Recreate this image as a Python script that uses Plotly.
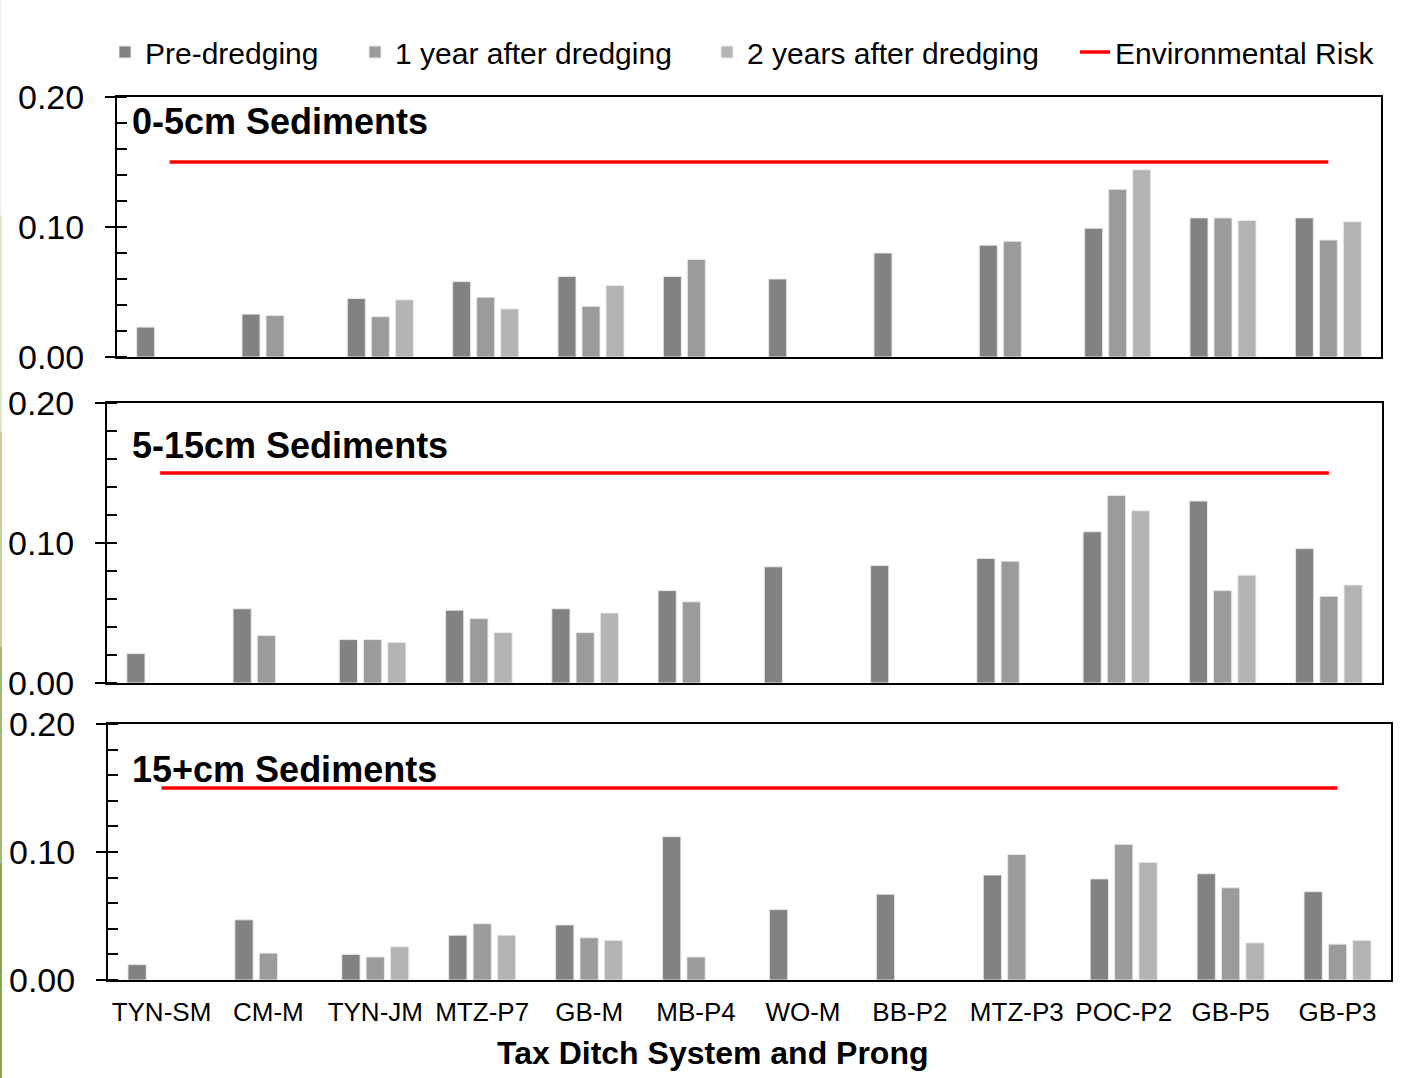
import plotly.graph_objects as go

W, H = 1421, 1078

sites = ["TYN-SM", "CM-M", "TYN-JM", "MTZ-P7", "GB-M", "MB-P4",
         "WO-M", "BB-P2", "MTZ-P3", "POC-P2", "GB-P5", "GB-P3"]

series_names = ["Pre-dredging", "1 year after dredging", "2 years after dredging"]
risk_name = "Environmental Risk"

# 0-5 cm sediments
pre_0_5 = [0.023, 0.033, 0.045, 0.058, 0.062, 0.062, 0.060, 0.080, 0.086, 0.099, 0.107, 0.107]
yr1_0_5 = [None, 0.032, 0.031, 0.046, 0.039, 0.075, None, None, 0.089, 0.129, 0.107, 0.090]
yr2_0_5 = [None, None, 0.044, 0.037, 0.055, None, None, None, None, 0.144, 0.105, 0.104]

# 5-15 cm sediments
pre_5_15 = [0.021, 0.053, 0.031, 0.052, 0.053, 0.066, 0.083, 0.084, 0.089, 0.108, 0.130, 0.096]
yr1_5_15 = [None, 0.034, 0.031, 0.046, 0.036, 0.058, None, None, 0.087, 0.134, 0.066, 0.062]
yr2_5_15 = [None, None, 0.029, 0.036, 0.050, None, None, None, None, 0.123, 0.077, 0.070]

# 15+ cm sediments
pre_15 = [0.012, 0.047, 0.020, 0.035, 0.043, 0.112, 0.055, 0.067, 0.082, 0.079, 0.083, 0.069]
yr1_15 = [None, 0.021, 0.018, 0.044, 0.033, 0.018, None, None, 0.098, 0.106, 0.072, 0.028]
yr2_15 = [None, None, 0.026, 0.035, 0.031, None, None, None, None, 0.092, 0.029, 0.031]

risk_level = 0.15

panel_titles = ["0-5cm Sediments", "5-15cm Sediments", "15+cm Sediments"]
panels = [
    (pre_0_5, yr1_0_5, yr2_0_5),
    (pre_5_15, yr1_5_15, yr2_5_15),
    (pre_15, yr1_15, yr2_15),
]

bar_colors = ["#828282", "#9b9b9b", "#b4b4b4"]
FONT = "Liberation Sans, Arial, sans-serif"

# plot boxes in pixels: (left, right, top, bottom)
boxes = [
    (117, 1381, 97, 357),
    (107, 1382, 403, 683),
    (108, 1391, 724, 980),
]
# panel title centres in pixels (x of left edge, y of middle)
title_pos = [(130, 121), (130, 445), (130, 769)]


def xdom(l, r):
    return [l / W, r / W]


def ydom(t, b):
    return [(H - b) / H, (H - t) / H]


fig = go.Figure()
legend_ids = ["legend", "legend2", "legend3"]

for p, (vals, box) in enumerate(zip(panels, boxes)):
    sfx = "" if p == 0 else str(p + 1)
    for s, (v, name, col) in enumerate(zip(vals, series_names, bar_colors)):
        fig.add_trace(go.Bar(
            x=sites, y=v, name=name,
            marker=dict(color=col, line=dict(color="rgba(235,235,235,0.9)", width=1)),
            xaxis="x" + sfx, yaxis="y" + sfx,
            showlegend=(p == 0), legend=legend_ids[s],
        ))
    fig.add_trace(go.Scatter(
        x=sites, y=[risk_level] * len(sites), name=risk_name, mode="lines",
        line=dict(color="#ff0000", width=3.5),
        xaxis="x" + sfx, yaxis="y" + sfx,
        showlegend=(p == 0), legend="legend4",
    ))

    l, r, t, b = box
    fig.update_layout(**{
        "xaxis" + sfx: dict(
            domain=xdom(l, r), anchor="y" + sfx,
            showline=True, linecolor="black", linewidth=2, mirror=True,
            ticks="", showticklabels=(p == 2),
            tickfont=dict(family=FONT, size=26, color="black"),
            ticklabelstandoff=8,
            showgrid=False, zeroline=False, automargin=False,
        ),
        "yaxis" + sfx: dict(
            domain=ydom(t, b), anchor="x" + sfx,
            range=[0, 0.2],
            tickvals=[0, 0.1, 0.2], tickformat=".2f",
            ticks="outside", ticklen=10, tickwidth=1.5, tickcolor="black",
            minor=dict(dtick=0.02, ticks="inside", ticklen=10, tickwidth=1.5, tickcolor="black"),
            ticklabelstandoff=14,
            tickfont=dict(family=FONT, size=34, color="black"),
            showline=True, linecolor="black", linewidth=2, mirror=True,
            showgrid=False, zeroline=False, automargin=False,
        ),
    })
    tx, ty = title_pos[p]
    fig.add_annotation(
        text="<b>%s</b>" % panel_titles[p],
        xref="paper", yref="paper",
        x=tx / W, y=(H - ty) / H,
        xanchor="left", yanchor="middle", showarrow=False,
        font=dict(family=FONT, size=36, color="black"),
    )

fig.add_annotation(
    text="<b>Tax Ditch System and Prong</b>",
    xref="paper", yref="paper", x=713 / W, y=(H - 1053) / H,
    xanchor="center", yanchor="middle", showarrow=False,
    font=dict(family=FONT, size=32, color="black"),
)

legend_text_x = [147, 397, 749, 1117]
legend_common = dict(
    orientation="h", yanchor="middle", y=(H - 52) / H, xanchor="left",
    font=dict(family=FONT, size=30, color="black"),
    bgcolor="rgba(0,0,0,0)", itemwidth=30,
)
layout_legends = {}
for lid, tx in zip(["legend", "legend2", "legend3", "legend4"], legend_text_x):
    layout_legends[lid] = dict(legend_common, x=(tx - 42) / W)

# thin olive strip along the left edge
strip = ["#f3f6ea", "#dfe8c8", "#c2d39b", "#a3bb70", "#88a450"]
n = len(strip)
for i, c in enumerate(strip):
    fig.add_shape(type="rect", xref="paper", yref="paper",
                  x0=0, x1=2 / W, y0=1 - (i + 1) / n, y1=1 - i / n,
                  line=dict(width=0), fillcolor=c, layer="above")

fig.update_layout(
    width=W, height=H,
    margin=dict(l=0, r=0, t=0, b=0, pad=0, autoexpand=False),
    paper_bgcolor="white", plot_bgcolor="white",
    barmode="group", bargap=0.316, bargroupgap=0.25,
    font=dict(family=FONT, color="black"),
    **layout_legends,
)

fig.write_html("out.html")
